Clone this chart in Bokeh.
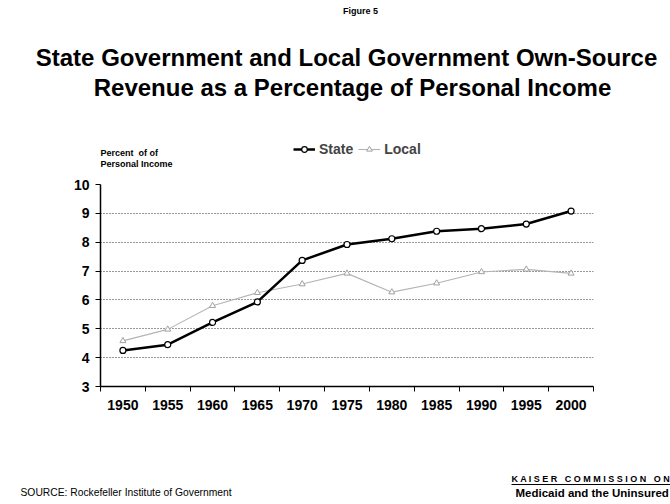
from bokeh.plotting import figure
from bokeh.layouts import column
from bokeh.models import (Range1d, FixedTicker, Label, Legend, LegendItem)
from bokeh.embed import file_html
from bokeh.resources import INLINE

years = [1950, 1955, 1960, 1965, 1970, 1975, 1980, 1985, 1990, 1995, 2000]
state = [4.25, 4.45, 5.22, 5.93, 7.37, 7.92, 8.12, 8.38, 8.47, 8.63, 9.08]
local = [4.58, 4.98, 5.8, 6.25, 6.55, 6.92, 6.27, 6.58, 6.97, 7.06, 6.92]
y_ticks = [3, 4, 5, 6, 7, 8, 9, 10]
bin_edges = [1947.5, 1952.5, 1957.5, 1962.5, 1967.5, 1972.5, 1977.5, 1982.5,
             1987.5, 1992.5, 1997.5, 2002.5]

FONT = "Liberation Sans"
NB = "\u00a0"
W = 670
HEAD_H = 176
CHART_H = 244
FOOT_H = 504 - HEAD_H - CHART_H

STATE_STYLE = dict(line_color="black", line_width=2.5)
STATE_MARK = dict(marker="circle", size=6, line_color="black", fill_color="white", line_width=1.2)
LOCAL_STYLE = dict(line_color="#b4b4b4", line_width=1.1)
LOCAL_MARK = dict(marker="triangle", size=6, line_color="#a0a0a0", fill_color="white", line_width=1)


def no_align(f):
    try:
        f.frame_align = False
    except Exception:
        pass


def blank(h):
    f = figure(width=W, height=h, output_backend="svg", toolbar_location=None,
               x_range=Range1d(0, W), y_range=Range1d(h, 0),
               min_border=0, min_border_left=0, min_border_right=0,
               min_border_top=0, min_border_bottom=0)
    f.axis.visible = False
    f.grid.visible = False
    f.outline_line_color = None
    no_align(f)
    return f


def add_text(f, x, y, text, size, bold=False, align="left"):
    f.add_layout(Label(x=x, y=y, text=text, text_font=FONT, text_font_size=size,
                       text_font_style="bold" if bold else "normal",
                       text_align=align, text_baseline="middle", text_color="black"))


# ---- header ----
head = blank(HEAD_H)
add_text(head, 360, 10, "Figure 5", "9px", True, "center")
add_text(head, 346, 57, "State Government and Local Government Own-Source", "24px", True, "center")
add_text(head, 352, 87, "Revenue as a Percentage of Personal Income", "24px", True, "center")
add_text(head, 100, 152, "Percent" + NB + NB + "of of", "9px", True)
add_text(head, 100, 163, "Personal Income", "9px", True)

# legend keys: the series drawn in header coordinates fall outside its visible range
hs_l = head.line(years, state, **STATE_STYLE)
hs_m = head.scatter(years, state, **STATE_MARK)
hl_l = head.line(years, local, **LOCAL_STYLE)
hl_m = head.scatter(years, local, **LOCAL_MARK)
legend = Legend(items=[LegendItem(label="State", renderers=[hs_l, hs_m]),
                       LegendItem(label="Local", renderers=[hl_l, hl_m])],
                location=(293, 19), orientation="horizontal")
legend.background_fill_alpha = 0
legend.border_line_color = None
legend.label_text_font = FONT
legend.label_text_font_style = "bold"
legend.label_text_font_size = "14px"
legend.glyph_width = 22
legend.glyph_height = 14
legend.padding = 0
legend.margin = 0
legend.spacing = 5
legend.label_standoff = 4
head.add_layout(legend, "center")

# ---- chart ----
p = figure(width=W, height=CHART_H, output_backend="svg", toolbar_location=None,
           x_range=Range1d(bin_edges[0], bin_edges[-1]), y_range=Range1d(3, 10),
           min_border_left=100, min_border_right=77, min_border_top=8,
           min_border_bottom=34)
p.outline_line_color = None
no_align(p)

p.xgrid.grid_line_color = None
p.ygrid.ticker = FixedTicker(ticks=y_ticks[1:])
p.ygrid.grid_line_color = "#333333"
p.ygrid.grid_line_dash = "1 2"
p.ygrid.grid_line_width = 1

xa = p.xaxis[0]
xa.ticker = FixedTicker(ticks=years, minor_ticks=bin_edges)
xa.major_tick_out = 0
xa.major_tick_in = 0
xa.minor_tick_out = 5
xa.minor_tick_in = 0
xa.minor_tick_line_color = "black"
xa.axis_line_width = 1.5
xa.major_label_text_font = FONT
xa.major_label_text_font_style = "bold"
xa.major_label_text_font_size = "14px"
xa.major_label_text_color = "black"
xa.major_label_standoff = 8

ya = p.yaxis[0]
ya.ticker = FixedTicker(ticks=y_ticks)
ya.major_tick_out = 5
ya.major_tick_in = 0
ya.minor_tick_out = 0
ya.axis_line_width = 1.5
ya.major_label_text_font = FONT
ya.major_label_text_font_style = "bold"
ya.major_label_text_font_size = "14px"
ya.major_label_text_color = "black"
ya.major_label_standoff = 6

p.line(years, local, **LOCAL_STYLE)
p.scatter(years, local, **LOCAL_MARK)
p.line(years, state, **STATE_STYLE)
p.scatter(years, state, **STATE_MARK)

# ---- footer ----
foot = blank(FOOT_H)
add_text(foot, 20, 72, "SOURCE: Rockefeller Institute of Government", "10.3px")
kaiser = (" ".join("KAISER") + NB + NB + " " + " ".join("COMMISSION") + NB + NB + " " + " ".join("ON"))
add_text(foot, 511, 58, kaiser, "9px", True)
foot.segment(x0=[511], y0=[64], x1=[670], y1=[64], line_color="black", line_width=1)
add_text(foot, 515, 72, "Medicaid and the Uninsured", "11.5px", True)

layout = column(head, p, foot, spacing=0)
open("out.html", "w").write(file_html(layout, INLINE))
